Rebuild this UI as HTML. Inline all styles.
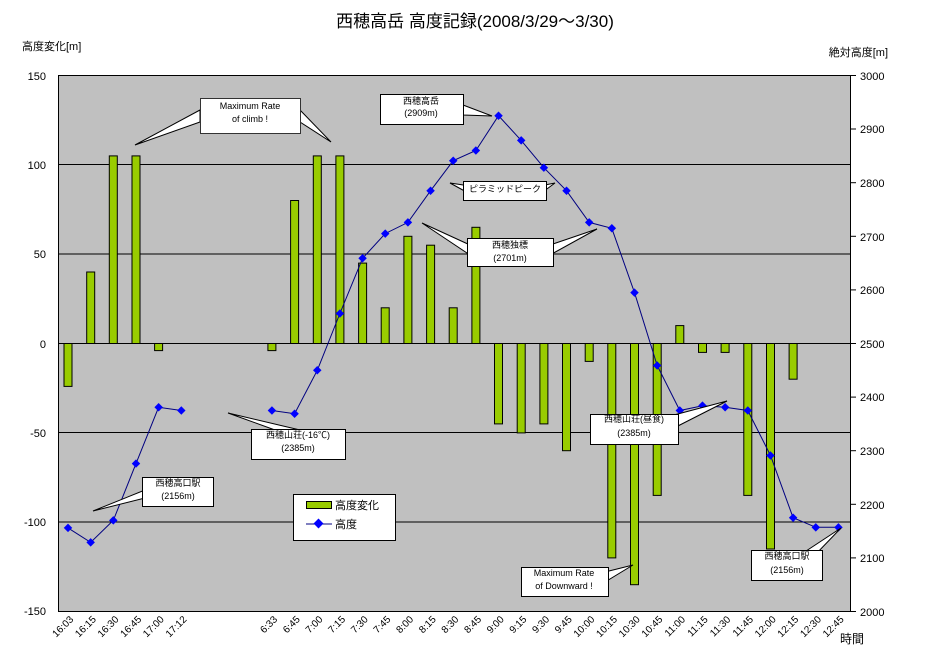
<!DOCTYPE html>
<html><head><meta charset="utf-8"><style>
body{margin:0;background:#fff;}
svg text{font-family:"Liberation Sans","Noto Sans CJK JP",sans-serif;}
</style></head><body>
<svg id="s" width="925" height="665" xmlns="http://www.w3.org/2000/svg">
<rect width="925" height="665" fill="#fff"/>
<text x="475" y="27" font-size="17" text-anchor="middle">西穂高岳  高度記録(2008/3/29～3/30)</text>
<text x="22" y="50" font-size="11">高度変化[m]</text>
<text x="888" y="56" font-size="11" text-anchor="end">絶対高度[m]</text>
<rect x="58.5" y="75.5" width="792" height="536" fill="#c0c0c0" stroke="#000" stroke-width="1"/>
<g stroke="#000" stroke-width="1">
<line x1="58" y1="164.5" x2="851" y2="164.5"/>
<line x1="58" y1="254" x2="851" y2="254"/>
<line x1="58" y1="343.5" x2="851" y2="343.5"/>
<line x1="58" y1="432.5" x2="851" y2="432.5"/>
<line x1="58" y1="522" x2="851" y2="522"/>
</g>
<g font-size="11" text-anchor="end">
<text x="46" y="80">150</text><text x="46" y="169">100</text><text x="46" y="258">50</text>
<text x="46" y="348">0</text><text x="46" y="437">-50</text><text x="46" y="526">-100</text><text x="46" y="615">-150</text>
</g>
<g stroke="#000"><line x1="851" y1="75.5" x2="856" y2="75.5"/><line x1="851" y1="129" x2="856" y2="129"/><line x1="851" y1="182.7" x2="856" y2="182.7"/><line x1="851" y1="236.3" x2="856" y2="236.3"/><line x1="851" y1="289.9" x2="856" y2="289.9"/><line x1="851" y1="343.5" x2="856" y2="343.5"/><line x1="851" y1="397.1" x2="856" y2="397.1"/><line x1="851" y1="450.7" x2="856" y2="450.7"/><line x1="851" y1="504.3" x2="856" y2="504.3"/><line x1="851" y1="557.9" x2="856" y2="557.9"/><line x1="851" y1="611.5" x2="856" y2="611.5"/></g>
<g font-size="11">
<text x="860" y="80">3000</text><text x="860" y="133">2900</text><text x="860" y="187">2800</text><text x="860" y="241">2700</text><text x="860" y="294">2600</text><text x="860" y="348">2500</text><text x="860" y="401">2400</text><text x="860" y="455">2300</text><text x="860" y="509">2200</text><text x="860" y="562">2100</text><text x="860" y="616">2000</text>
</g>
<g id="bars" fill="#99cc00" stroke="#000" stroke-width="1"></g>
<polyline id="ln" fill="none" stroke="#000080" stroke-width="1"/>
<g id="pts" fill="#0000ff"></g>
<g font-size="10" text-anchor="end" id="xl">
<text transform="translate(74,620) rotate(-45)">16:03</text>
<text transform="translate(96.7,620) rotate(-45)">16:15</text>
<text transform="translate(119.3,620) rotate(-45)">16:30</text>
<text transform="translate(142,620) rotate(-45)">16:45</text>
<text transform="translate(164.6,620) rotate(-45)">17:00</text>
<text transform="translate(187.3,620) rotate(-45)">17:12</text>
<text transform="translate(277.9,620) rotate(-45)">6:33</text>
<text transform="translate(300.6,620) rotate(-45)">6:45</text>
<text transform="translate(323.3,620) rotate(-45)">7:00</text>
<text transform="translate(345.9,620) rotate(-45)">7:15</text>
<text transform="translate(368.6,620) rotate(-45)">7:30</text>
<text transform="translate(391.2,620) rotate(-45)">7:45</text>
<text transform="translate(413.9,620) rotate(-45)">8:00</text>
<text transform="translate(436.6,620) rotate(-45)">8:15</text>
<text transform="translate(459.2,620) rotate(-45)">8:30</text>
<text transform="translate(481.9,620) rotate(-45)">8:45</text>
<text transform="translate(504.5,620) rotate(-45)">9:00</text>
<text transform="translate(527.2,620) rotate(-45)">9:15</text>
<text transform="translate(549.9,620) rotate(-45)">9:30</text>
<text transform="translate(572.5,620) rotate(-45)">9:45</text>
<text transform="translate(595.2,620) rotate(-45)">10:00</text>
<text transform="translate(617.8,620) rotate(-45)">10:15</text>
<text transform="translate(640.5,620) rotate(-45)">10:30</text>
<text transform="translate(663.2,620) rotate(-45)">10:45</text>
<text transform="translate(685.8,620) rotate(-45)">11:00</text>
<text transform="translate(708.5,620) rotate(-45)">11:15</text>
<text transform="translate(731.1,620) rotate(-45)">11:30</text>
<text transform="translate(753.8,620) rotate(-45)">11:45</text>
<text transform="translate(776.5,620) rotate(-45)">12:00</text>
<text transform="translate(799.1,620) rotate(-45)">12:15</text>
<text transform="translate(821.8,620) rotate(-45)">12:30</text>
<text transform="translate(844.4,620) rotate(-45)">12:45</text>
</g>
<text x="840" y="643" font-size="12">時間</text>
<!-- callouts -->
<g fill="#fff" stroke="#000" stroke-width="1" font-size="9">
<polygon points="200,110 135,145 200,122"/><polygon points="300,110 331,142 300,122"/>
<rect x="200.5" y="98.5" width="100" height="35" fill="#fff" stroke="#333"/>
<polygon points="463,105 492,116 463,115"/>
<rect x="380.5" y="94.5" width="83" height="30"/>
<polygon points="470,186 450,183 470,194"/><polygon points="540,186 555,183 540,194"/>
<rect x="463.5" y="181.5" width="83" height="19"/>
<polygon points="470,245 422,223 470,255"/><polygon points="550,245 597,229 550,255"/>
<rect x="467.5" y="238.5" width="86" height="28"/>
<polygon points="275,430 228,413 300,430"/>
<rect x="251.5" y="429.5" width="94" height="30"/>
<polygon points="145,490 93,511 145,498"/>
<rect x="142.5" y="477.5" width="71" height="29"/>
<polygon points="655,420 727,401 670,430"/>
<rect x="590.5" y="414.5" width="88" height="30"/>
<polygon points="605,572 633,565 605,582"/>
<rect x="521.5" y="567.5" width="87" height="29"/>
<polygon points="800,555 841,528 815,555"/>
<rect x="751.5" y="550.5" width="71" height="30"/>
</g>
<g font-size="9" text-anchor="middle" fill="#000">
<text x="250" y="109">Maximum Rate</text><text x="250" y="122">of climb !</text>
<text x="421" y="104">西穂高岳</text><text x="421" y="116">(2909m)</text>
<text x="505" y="192">ピラミッドピーク</text>
<text x="510" y="248">西穂独標</text><text x="510" y="261">(2701m)</text>
<text x="298" y="438">西穂山荘(-16℃)</text><text x="298" y="451">(2385m)</text>
<text x="178" y="486">西穂高口駅</text><text x="178" y="499">(2156m)</text>
<text x="634" y="422">西穂山荘(昼食)</text><text x="634" y="436">(2385m)</text>
<text x="564" y="576">Maximum Rate</text><text x="564" y="589">of Downward !</text>
<text x="787" y="559">西穂高口駅</text><text x="787" y="573">(2156m)</text>
</g>
<rect x="293.5" y="494.5" width="102" height="46" fill="#fff" stroke="#000"/>
<rect x="306.5" y="501.5" width="25" height="7" fill="#99cc00" stroke="#000"/>
<text x="335" y="509" font-size="11">高度変化</text>
<line x1="306" y1="524" x2="332" y2="524" stroke="#000080"/>
<rect x="315" y="520" width="7" height="7" fill="#0000ff" transform="rotate(45 318.5 523.5)"/>
<text x="335" y="528" font-size="11">高度</text>
<script>
var bars={0:-24,1:40,2:105,3:105,4:-4,9:-4,10:80,11:105,12:105,13:45,14:20,15:60,16:55,17:20,18:65,19:-45,20:-50,21:-45,22:-60,23:-10,24:-120,25:-135,26:-85,27:10,28:-5,29:-5,30:-85,31:-115,32:-20};
var alt={0:2156,1:2129,2:2170,3:2276,4:2381,5:2375,9:2375,10:2369,11:2450,12:2556,13:2659,14:2705,15:2726,16:2785,17:2841,18:2860,19:2925,20:2879,21:2828,22:2785,23:2726,24:2715,25:2595,26:2459,27:2375,28:2384,29:2381,30:2375,31:2291,32:2175,33:2157,34:2157};
var ns="http://www.w3.org/2000/svg";
function cx(i){return 68+22.66*i;}
var bg=document.getElementById('bars');
for(var k in bars){var v=bars[k],x=cx(+k),y0=343.5,y=y0-v*1.787;var r=document.createElementNS(ns,'rect');r.setAttribute('x',(x-4).toFixed(1));r.setAttribute('y',Math.min(y,y0).toFixed(1));r.setAttribute('width',8);r.setAttribute('height',Math.abs(y-y0).toFixed(1));bg.appendChild(r);}
var segs=[[0,5],[9,34]],pg=document.getElementById('pts'),pts=[];
var svg=document.getElementById('s');
segs.forEach(function(s,si){var p=[];for(var i=s[0];i<=s[1];i++){var x=cx(i),y=611.5-(alt[i]-2000)*0.536;p.push(x.toFixed(1)+','+y.toFixed(1));var d=document.createElementNS(ns,'rect');d.setAttribute('x',x-3);d.setAttribute('y',y-3);d.setAttribute('width',6);d.setAttribute('height',6);d.setAttribute('transform','rotate(45 '+x+' '+y+')');pg.appendChild(d);}
var pl=si==0?document.getElementById('ln'):document.createElementNS(ns,'polyline');pl.setAttribute('points',p.join(' '));pl.setAttribute('fill','none');pl.setAttribute('stroke','#000080');if(si>0)svg.insertBefore(pl,pg);});
</script>
</svg>
</body></html>
